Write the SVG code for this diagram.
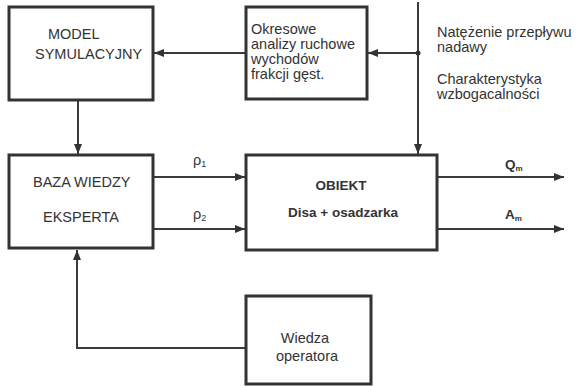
<svg xmlns="http://www.w3.org/2000/svg" width="580" height="386" viewBox="0 0 580 386">
<style>
.box{fill:#fff;stroke:#333;stroke-width:3}
.ln{fill:none;stroke:#3a3a3a;stroke-width:2}
.t{font-family:"Liberation Sans",Arial,sans-serif;font-size:14.5px;fill:#333}
.b{font-family:"Liberation Sans",Arial,sans-serif;font-size:13.5px;font-weight:bold;fill:#333}
</style>
<defs>
<marker id="ah" viewBox="0 0 10 8" refX="10" refY="4" markerWidth="10" markerHeight="8" markerUnits="userSpaceOnUse" orient="auto">
<path d="M0,0 L10,4 L0,8 Z" fill="#333"/>
</marker>
</defs>
<rect width="580" height="386" fill="#fff"/>
<g id="connectors">
<path class="ln" d="M246,53 H154" marker-end="url(#ah)"/>
<path class="ln" d="M418,2 V154" marker-end="url(#ah)"/>
<path class="ln" d="M418,53 H368" marker-end="url(#ah)"/>
<circle cx="418" cy="53" r="2.5" fill="#333"/>
<path class="ln" d="M78,100 V154" marker-end="url(#ah)"/>
<path class="ln" d="M153,177 H245" marker-end="url(#ah)"/>
<path class="ln" d="M153,229 H245" marker-end="url(#ah)"/>
<path class="ln" d="M437,177 H564" marker-end="url(#ah)"/>
<path class="ln" d="M437,229 H564" marker-end="url(#ah)"/>
<path class="ln" d="M246,348 H77 V250" marker-end="url(#ah)"/>
<text class="t" x="193" y="165">ρ<tspan font-size="9" dy="2">1</tspan></text>
<text class="t" x="193" y="219">ρ<tspan font-size="9" dy="2">2</tspan></text>
<text class="b" x="505" y="169">Q<tspan font-size="8" dy="2">m</tspan></text>
<text class="b" x="505" y="219">A<tspan font-size="8" dy="2">m</tspan></text>
</g>
<g id="model">
<rect class="box" x="9" y="7" width="144" height="93"/>
<text class="t" x="48" y="39">MODEL</text>
<text class="t" x="35" y="59">SYMULACYJNY</text>
</g>
<g id="okresowe">
<rect class="box" x="246" y="7" width="121" height="92"/>
<text class="t" x="251" y="34">Okresowe</text>
<text class="t" x="251" y="49">analizy ruchowe</text>
<text class="t" x="251" y="64">wychodów</text>
<text class="t" x="251" y="79">frakcji gęst.</text>
</g>
<g id="inputs">
<text class="t" x="437" y="37">Natężenie przepływu</text>
<text class="t" x="437" y="52">nadawy</text>
<text class="t" x="437" y="84">Charakterystyka</text>
<text class="t" x="437" y="99">wzbogacalności</text>
</g>
<g id="baza">
<rect class="box" x="9" y="155" width="144" height="93"/>
<text class="t" x="33" y="187">BAZA WIEDZY</text>
<text class="t" x="43" y="222">EKSPERTA</text>
</g>
<g id="obiekt">
<rect class="box" x="246" y="155" width="191" height="95"/>
<text class="b" x="341" y="190" text-anchor="middle">OBIEKT</text>
<text class="b" x="343" y="217" text-anchor="middle">Disa + osadzarka</text>
</g>
<g id="wiedza">
<rect class="box" x="246" y="296" width="125" height="88"/>
<text class="t" x="305" y="343" text-anchor="middle">Wiedza</text>
<text class="t" x="307" y="361" text-anchor="middle">operatora</text>
</g>
</svg>
